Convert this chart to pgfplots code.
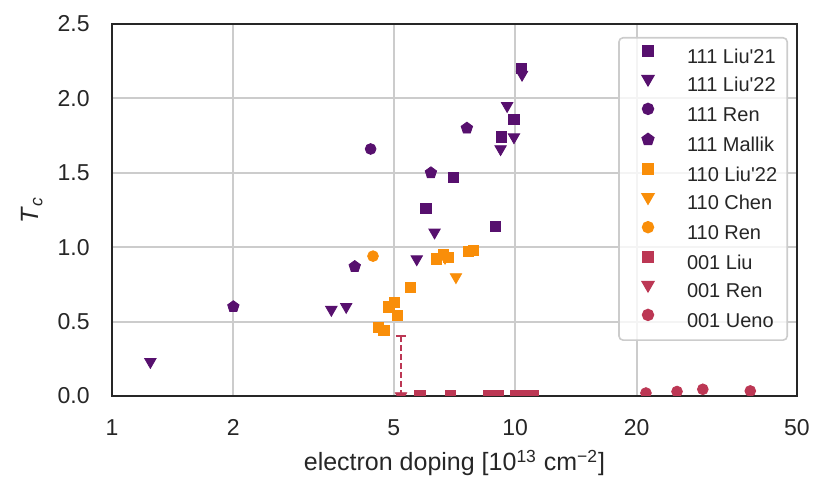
\documentclass[border=0pt]{standalone}
\usepackage{pgfplots}
\pgfplotsset{compat=1.18}
\usepackage{fontspec}
\setmainfont{Liberation Sans}
\definecolor{purp}{HTML}{57106E}
\definecolor{oran}{HTML}{F98E09}
\definecolor{redc}{HTML}{BC3754}
\definecolor{axc}{HTML}{262626}
\definecolor{gridc}{HTML}{CCCCCC}
\begin{document}
\begin{tikzpicture}
\path[use as bounding box] (-56pt,-52.5pt) rectangle (358.5pt,198pt);
\begin{axis}[
  at={(0,0)}, anchor=south west,
  scale only axis, width=342.5pt, height=186pt,
  xmode=log, xmin=1, xmax=50, ymin=0, ymax=2.5,
  xtick={1,2,5,10,20,50}, xticklabels={1,2,5,10,20,50},
  minor xtick={}, 
  ytick={0,0.5,1,1.5,2,2.5},
  yticklabel style={/pgf/number format/fixed,/pgf/number format/fixed zerofill,/pgf/number format/precision=1},
  /pgf/number format/assume math mode=true,
  tick style={draw=none},
  major tick length=0pt,
  tick label style={font=\fontsize{11.5}{13}\selectfont, text=axc},
  yticklabel style={inner sep=0pt, xshift=-11pt},
  xticklabel style={inner sep=0pt, yshift=-11.5pt},
  grid=major, major grid style={gridc, line width=1pt},
  axis line style={axc, line width=1.2pt},
  clip marker paths=true,
  xlabel={electron doping [10\textsuperscript{13} cm\textsuperscript{−2}]},
  ylabel={\textit{T}\textsubscript{\textit{c}}},
  label style={font=\fontsize{12.5}{14}\selectfont, text=axc},
  xlabel style={at={(axis description cs:0.5,-0.180)}, anchor=center},
  ylabel style={at={(axis description cs:-0.1168,0.5)}, anchor=center, rotate=0},
  legend cell align=left,
  legend style={at={(rel axis cs:1,1)}, xshift=-4.5pt, yshift=-6.5pt, anchor=north east,
    draw=gridc, line width=0.8pt, rounded corners=2pt, fill=white, fill opacity=0.8, text opacity=1,
    font=\fontsize{10}{11.5}\selectfont, text=axc, row sep=3.7pt, inner xsep=5pt, inner ysep=4pt,
    nodes={inner sep=0pt, text height=7.5pt, text depth=2.5pt}},
  every axis plot/.append style={only marks, mark options={draw=white, line width=0.35pt},
    legend image code/.code={\path[draw=none] (-9.5pt,3.6pt) -- (19.5pt,3.6pt); \draw[##1, only marks, opacity=1] plot coordinates {(0pt,3.6pt)};}},
]
\addplot[purp, mark=square*, mark size=2.6pt, mark options={fill=purp}] coordinates {
 (10.35,2.20) (9.92,1.86) (9.23,1.74) (7.02,1.47) (6.01,1.26) (8.92,1.14)};
\addlegendentry{111 Liu\textquotesingle 21}
\addplot[purp, mark=triangle*, mark size=3.3pt, mark options={fill=purp, rotate=180}] coordinates {
 (1.245,0.23) (3.50,0.58) (3.81,0.60) (5.70,0.92) (6.31,1.10) (9.20,1.66) (9.93,1.74) (9.55,1.95) (10.4,2.16)};
\addlegendentry{111 Liu\textquotesingle 22}
\addplot[purp, mark=*, mark size=2.7pt, mark options={fill=purp}] coordinates {(4.38,1.66)};
\addlegendentry{111 Ren}
\addplot[purp, mark=pentagon*, mark size=3pt, mark options={fill=purp}] coordinates {
 (2.0,0.60) (4.0,0.87) (6.18,1.50) (7.59,1.80)};
\addlegendentry{111 Mallik}
\addplot[oran, mark=square*, mark size=2.6pt, mark options={fill=oran}] coordinates {
 (4.58,0.46) (4.72,0.44) (4.86,0.60) (5.01,0.63) (5.10,0.54) (5.50,0.73) (6.38,0.92) (6.64,0.95) (6.83,0.93) (7.65,0.97) (7.88,0.98)};
\addlegendentry{110 Liu\textquotesingle 22}
\addplot[oran, mark=triangle*, mark size=3.3pt, mark options={fill=oran, rotate=180}] coordinates {
 (6.70,0.93) (7.13,0.80)};
\addlegendentry{110 Chen}
\addplot[oran, mark=*, mark size=2.7pt, mark options={fill=oran}] coordinates {(4.44,0.94)};
\addlegendentry{110 Ren}
\addplot[redc, mark=square*, mark size=2.6pt, mark options={fill=redc}] coordinates {
 (5.81,0) (6.91,0) (8.58,0) (9.09,0) (10.04,0) (10.69,0) (11.10,0)};
\addlegendentry{001 Liu}
\addplot[redc, mark=triangle*, mark size=3.3pt, mark options={fill=redc, rotate=180},
  error bars/.cd, y dir=plus, y explicit,
  error bar style={redc, line width=1pt, dash pattern=on 3pt off 1.5pt},
  error mark options={redc, rotate=90, mark size=2.5pt, line width=1pt, solid}]
 coordinates {(5.21,0) +- (0,0.4)};
\addlegendentry{001 Ren}
\addplot[redc, mark=*, mark size=2.7pt, mark options={fill=redc}] coordinates {
 (21.1,0.02) (25.2,0.03) (29.2,0.045) (38.3,0.034)};
\addlegendentry{001 Ueno}
\end{axis}
\end{tikzpicture}
\end{document}
